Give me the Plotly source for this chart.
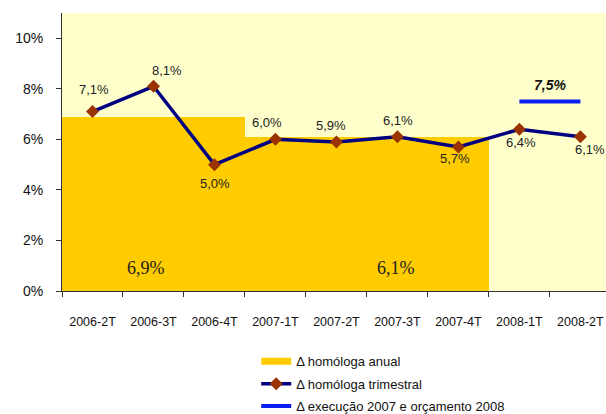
import plotly.graph_objects as go

# Trimestres
categorias = ["2006-2T", "2006-3T", "2006-4T", "2007-1T", "2007-2T",
              "2007-3T", "2007-4T", "2008-1T", "2008-2T"]

# Δ homóloga trimestral (%)
trimestral = [7.1, 8.1, 5.0, 6.0, 5.9, 6.1, 5.7, 6.4, 6.1]
trimestral_txt = ["7,1%", "8,1%", "5,0%", "6,0%", "5,9%", "6,1%", "5,7%", "6,4%", "6,1%"]

# Δ homóloga anual (%): 2006 cobre 3 trimestres, 2007 cobre 4
anual = [6.9, 6.1]
anual_txt = ["6,9%", "6,1%"]
anual_inicio = [0, 3]
anual_n = [3, 4]

# Δ execução 2007 e orçamento 2008
orcamento = 7.5
orcamento_txt = "7,5%"

# deslocamento (px) dos rótulos trimestrais em relação aos pontos
desl_x = [2, 14, 1, -8, -5, 1, -3, 2, 10]
desl_y = [22, 16, -19, 17, 16, 16, -12, -13, -13]

idx = list(range(len(categorias)))
anual_centro = [a + (n - 1) / 2 for a, n in zip(anual_inicio, anual_n)]

SANS = "Liberation Sans, Arial, sans-serif"
SERIF = "Liberation Serif, Times New Roman, serif"

fig = go.Figure()

fig.add_trace(go.Bar(
    x=anual_centro, y=anual, width=anual_n,
    marker=dict(color="#FFCC00", line=dict(width=0)),
    showlegend=False, hoverinfo="skip",
))
# entrada da legenda para a barra (traço largo amarelo)
fig.add_trace(go.Scatter(
    x=[None], y=[None], mode="lines", name="\u0394 homóloga anual",
    line=dict(color="#FFCC00", width=7), legendgroup="a",
))
fig.add_trace(go.Scatter(
    x=idx, y=trimestral, mode="lines+markers",
    name="\u0394 homóloga trimestral", legendgroup="b",
    line=dict(color="#000080", width=3.5),
    marker=dict(symbol="diamond", size=10, color="#993300"),
))
fig.add_trace(go.Scatter(
    x=[idx[-2], idx[-1]], y=[orcamento, orcamento], mode="lines",
    name="\u0394 execução 2007 e orçamento 2008", legendgroup="c",
    line=dict(color="#0A1EF0", width=4),
))

for i, v, t, dx, dy in zip(idx, trimestral, trimestral_txt, desl_x, desl_y):
    fig.add_annotation(
        x=i, y=v, xshift=dx, yshift=dy, text=t, showarrow=False,
        font=dict(family=SANS, size=13, color="#222222"),
    )

fig.add_annotation(
    x=(idx[-2] + idx[-1]) / 2, y=orcamento, yshift=16,
    text="<b><i>" + orcamento_txt + "</i></b>", showarrow=False,
    font=dict(family=SANS, size=14, color="#111111"),
)
for xc, t in zip([0.87, 4.97], anual_txt):
    fig.add_annotation(
        x=xc, y=0.9, text=t, showarrow=False,
        font=dict(family=SERIF, size=18, color="#222222"),
    )

fig.update_layout(
    width=606, height=414,
    margin=dict(l=62, r=0, t=13, b=123, autoexpand=False),
    paper_bgcolor="white",
    plot_bgcolor="#FFFFCC",
    bargap=0,
    font=dict(family=SANS, size=13, color="#111111"),
    legend=dict(
        x=0.357, y=-0.199, xanchor="left", yanchor="top",
        font=dict(family=SANS, size=13, color="#111111"),
        bgcolor="rgba(0,0,0,0)", tracegroupgap=2.5,
    ),
    xaxis=dict(
        range=[-0.5, 8.42], tickmode="array", tickvals=idx, ticktext=categorias,
        ticks="", showgrid=False, zeroline=False, automargin=False,
        showline=True, linecolor="#333333", linewidth=1,
        minor=dict(tick0=0.5, dtick=1, ticks="outside", ticklen=5, tickcolor="#333333"),
        tickfont=dict(size=12.5), ticklabelstandoff=19,
    ),
    yaxis=dict(
        range=[0, 11], tickvals=[0, 2, 4, 6, 8, 10],
        ticktext=["0%", "2%", "4%", "6%", "8%", "10%"],
        ticks="outside", ticklen=5, tickcolor="#333333",
        showgrid=False, zeroline=False, automargin=False,
        showline=True, linecolor="#333333", linewidth=1,
        tickfont=dict(size=14), ticklabelstandoff=10,
    ),
)

# sem margem na página, para a figura ocupar a janela inteira
fig.write_html("out.html", config={"displayModeBar": False},
               post_script="document.body.style.margin='0';")
